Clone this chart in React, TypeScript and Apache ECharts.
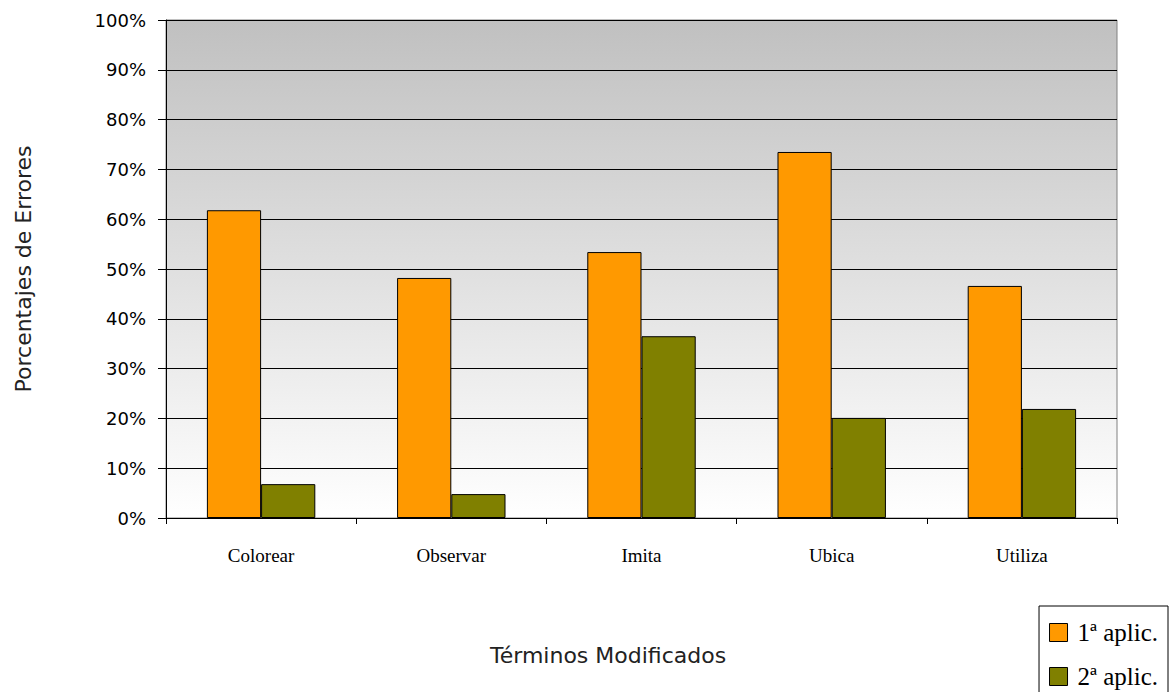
import React, { useEffect, useRef } from "react";
import * as echarts from "echarts";

const categories = ["Colorear", "Observar", "Imita", "Ubica", "Utiliza"];
const serie1Name = "1ª aplic.";
const serie2Name = "2ª aplic.";
const serie1 = [61.8, 48.2, 53.4, 73.5, 46.6];
const serie2 = [6.8, 4.8, 36.5, 20.1, 21.9];
const yTicks = [0, 10, 20, 30, 40, 50, 60, 70, 80, 90, 100];

export default function App() {
  const ref = useRef<HTMLDivElement>(null);
  useEffect(() => {
    if (!ref.current) return;
    const chart = echarts.init(ref.current, undefined, { renderer: "svg" });
    chart.setOption({
      animation: false,
      backgroundColor: "#ffffff",
      grid: {
        left: 166,
        right: 53,
        top: 20,
        bottom: 174,
        show: true,
        borderColor: "#808080",
        borderWidth: 1,
        backgroundColor: new echarts.graphic.LinearGradient(0, 0, 0, 1, [
          { offset: 0, color: "#c0c0c0" },
          { offset: 1, color: "#ffffff" },
        ]),
      },
      legend: {
        orient: "vertical",
        right: 2,
        bottom: -3,
        itemWidth: 18,
        itemHeight: 18,
        itemGap: 19,
        padding: [14, 10, 6, 10],
        borderColor: "#000",
        borderWidth: 1,
        backgroundColor: "#fff",
        icon: "rect",
        itemStyle: { borderColor: "#000", borderWidth: 1 },
        textStyle: {
          fontFamily: "Liberation Serif",
          fontSize: 25,
          color: "#000",
          padding: [0, 0, 0, 5],
        },
        data: [serie1Name, serie2Name],
      },
      xAxis: {
        type: "category",
        data: categories,
        axisLine: { lineStyle: { color: "#000", width: 1 } },
        axisTick: { show: true, length: 6, lineStyle: { color: "#000" } },
        axisLabel: {
          margin: 28,
          fontFamily: "Liberation Serif",
          fontSize: 19,
          color: "#000",
        },
      },
      yAxis: {
        type: "value",
        min: 0,
        max: 100,
        interval: 10,
        name: "Porcentajes de Errores",
        nameLocation: "middle",
        nameGap: 132,
        nameTextStyle: { fontFamily: "DejaVu Sans", fontSize: 22, color: "#222" },
        axisLine: { show: true, lineStyle: { color: "#000", width: 1 } },
        axisTick: { show: true, length: 8, lineStyle: { color: "#000" } },
        axisLabel: {
          margin: 20,
          fontFamily: "DejaVu Sans",
          fontSize: 18,
          color: "#000",
          formatter: (v: number) => (yTicks.includes(v) ? v + "%" : ""),
        },
        splitLine: { show: true, lineStyle: { color: "#000", width: 1 } },
      },
      graphic: [
        {
          type: "text",
          left: 490,
          top: 644,
          style: {
            text: "Términos Modificados",
            fontFamily: "DejaVu Sans",
            fontSize: 22,
            fill: "#222",
          },
        },
      ],
      series: [
        {
          name: serie1Name,
          type: "bar",
          data: serie1,
          barGap: "0%",
          barCategoryGap: "43%",
          itemStyle: { color: "#FF9900", borderColor: "#000", borderWidth: 1 },
        },
        {
          name: serie2Name,
          type: "bar",
          data: serie2,
          barGap: "0%",
          barCategoryGap: "43%",
          itemStyle: { color: "#808000", borderColor: "#000", borderWidth: 1 },
        },
      ],
    });
    return () => chart.dispose();
  }, []);
  return (
    <div
      ref={ref}
      style={{ position: "fixed", left: 0, top: 0, width: 1170, height: 692 }}
    />
  );
}
